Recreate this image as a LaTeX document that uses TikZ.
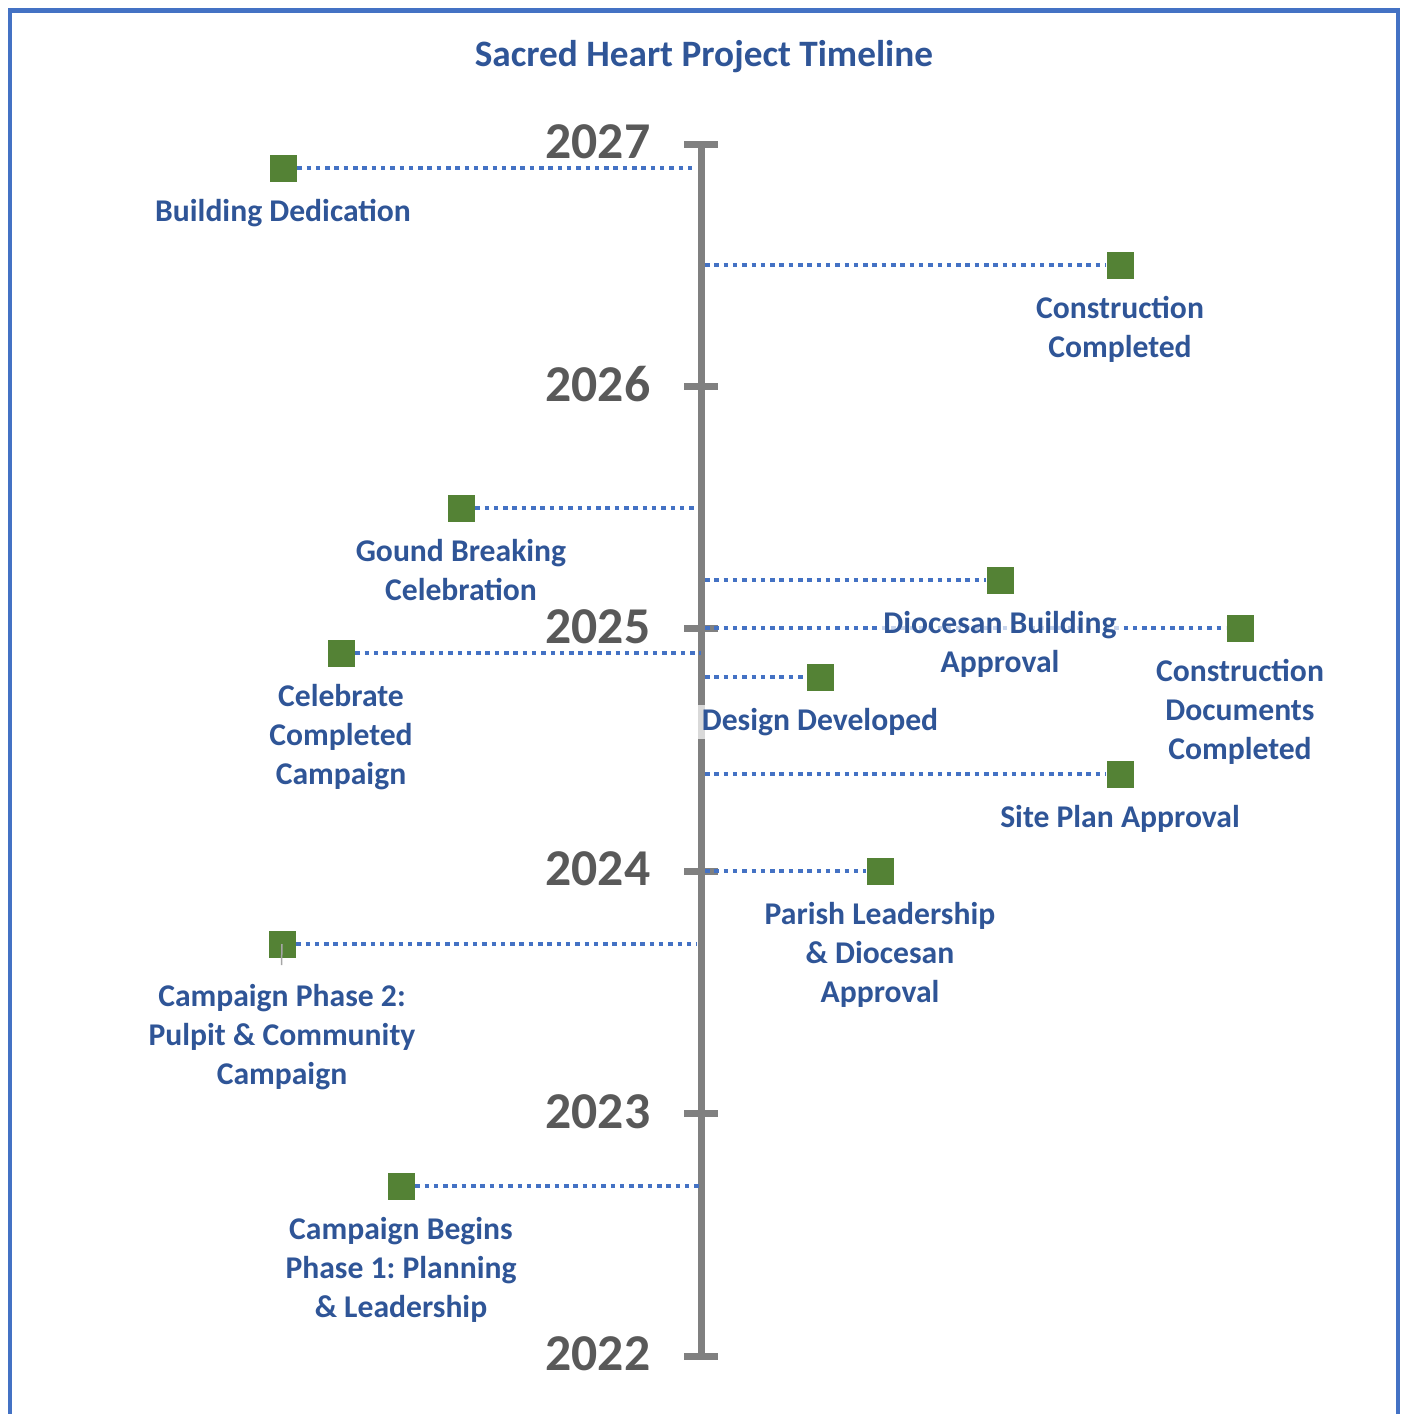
\documentclass[tikz,border=0pt]{standalone}
\usepackage{fontspec}
\setmainfont{Carlito}
\usetikzlibrary{positioning}
\definecolor{labelblue}{HTML}{2F5597}
\definecolor{dotblue}{HTML}{4472C4}
\definecolor{axisgray}{HTML}{808080}
\definecolor{yeargray}{HTML}{595959}
\definecolor{markgreen}{HTML}{548235}
\frenchspacing

\begin{document}
\begin{tikzpicture}[every node/.style={font=\bfseries\fontsize{9}{11.1}\selectfont,text=labelblue},
  mk/.style={fill=markgreen,minimum size=2.7mm,inner sep=0pt},
  lbl/.style={align=center,inner sep=1pt,below=1.3mm of #1},
  veil/.style={fill=white,fill opacity=0.7,text opacity=1},
  dots/.style={dotblue,line width=0.45mm,dash pattern=on 0.45mm off 0.48mm},
  yr/.style={anchor=east,inner sep=0pt,text=yeargray,font=\bfseries\fontsize{14.7}{16}\selectfont}]
\useasboundingbox (0,0) rectangle (14.05,-14.14);
% frame and title
\draw[dotblue,line width=0.45mm] (0.10,-14.3) -- (0.10,-0.105) -- (13.98,-0.105) -- (13.98,-14.3);
\node[font=\bfseries\fontsize{10.6}{12}\selectfont] (title) at (7.04,-0.57) {Sacred Heart Project Timeline};
% axis
\coordinate (ax-top) at (7.01,-1.44);
\coordinate (ax-bot) at (7.01,-13.56);
\coordinate (axl) at (6.97,0);
\coordinate (axr) at (7.05,0);
\draw[axisgray,line width=0.7mm] (ax-top) -- (ax-bot);
\foreach \yr [count=\i from 0] in {2027,2026,2025,2024,2023,2022} {
  \coordinate (t\yr) at (7.01,{-1.44-2.424*\i});
  \draw[axisgray,line width=0.7mm] ([xshift=-1.7mm]t\yr) -- ([xshift=1.7mm]t\yr);
  \node[yr] (y\yr) at (6.51,{-1.42-2.424*\i}) {\yr};
}
% markers
\node[mk] (dedic) at (2.83,-1.68) {};
\node[mk] (constr) at (11.20,-2.65) {};
\node[mk] (ground) at (4.61,-5.08) {};
\node[mk] (diocese) at (10.00,-5.80) {};
\node[mk] (docs) at (12.40,-6.28) {};
\node[mk] (celeb) at (3.41,-6.53) {};
\node[mk] (design) at (8.20,-6.77) {};
\node[mk] (site) at (11.20,-7.74) {};
\node[mk] (parish) at (8.80,-8.71) {};
\node[mk] (phase2) at (2.82,-9.44) {};
\node[mk] (phase1) at (4.01,-11.86) {};
% dotted leaders to the axis
\draw[dots] (dedic.east) -- (dedic.east -| axl);
\draw[dots] (axr |- constr.west) -- (constr.west);
\draw[dots] (ground.east) -- (ground.east -| axl);
\draw[dots] (axr |- diocese.west) -- (diocese.west);
\draw[dots] (axr |- docs.west) -- (docs.west);
\draw[dots] (celeb.east) -- (celeb.east -| ax-top);
\draw[dots] (axr |- design.west) -- (design.west);
\draw[dots] (axr |- site.west) -- (site.west);
\draw[dots] (axr |- parish.west) -- (parish.west);
\draw[dots] (phase2.east) -- (phase2.east -| axl);
\draw[dots] (phase1.east) -- (phase1.east -| ax-top);
\coordinate (phase2-end) at (2.815,-9.65);
\draw[gray!70,line width=0.15mm] (phase2.center) -- (phase2-end);
% labels
\node[lbl=dedic] (dedic-l) {Building Dedication};
\node[lbl=constr] (constr-l) {Construction\\Completed};
\node[lbl=ground] (ground-l) {Gound Breaking\\Celebration};
\node[lbl=diocese,veil] (diocese-l) {Diocesan Building\\Approval};
\node[lbl=docs] (docs-l) {Construction\\Documents\\Completed};
\node[lbl=celeb] (celeb-l) {Celebrate\\Completed\\Campaign};
\node[lbl=design,veil] (design-l) {Design Developed};
\node[lbl=site] (site-l) {Site Plan Approval};
\node[lbl=parish] (parish-l) {Parish Leadership\\\& Diocesan\\Approval};
\node[lbl=phase2,below=2.2mm of phase2] (phase2-l) {Campaign Phase 2:\\Pulpit \& Community\\Campaign};
\node[lbl=phase1] (phase1-l) {Campaign Begins\\Phase 1: Planning\\\& Leadership};
\end{tikzpicture}
\end{document}
